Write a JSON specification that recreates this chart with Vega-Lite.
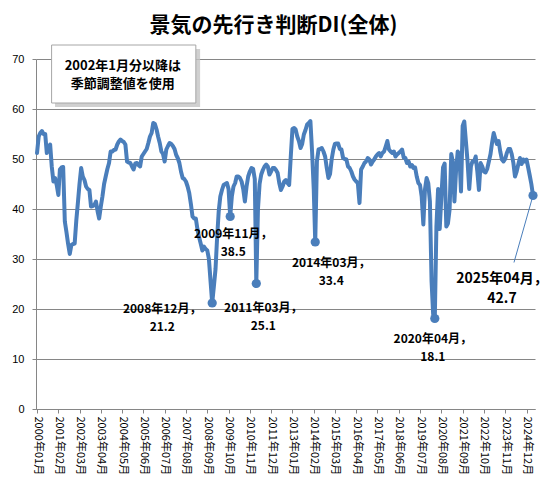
{
  "$schema": "https://vega.github.io/schema/vega-lite/v6.json",
  "autosize": "none",
  "width": 499,
  "height": 350,
  "padding": {"left": 36, "top": 59, "right": 16, "bottom": 86},
  "background": "white",
  "title": {
    "text": "景気の先行き判断DI(全体)",
    "font": "Noto Sans CJK JP",
    "fontSize": 21,
    "fontWeight": "bold",
    "color": "#000000",
    "anchor": "middle",
    "dx": -12,
    "offset": 9
  },
  "datasets": {
    "di": [
      {"d":"2000-01","v":51.2},{"d":"2000-02","v":54.5},{"d":"2000-03","v":55.2},{"d":"2000-04","v":55.6},{"d":"2000-05","v":55.0},{"d":"2000-06","v":55.0},{"d":"2000-07","v":51.2},{"d":"2000-08","v":52.3},{"d":"2000-09","v":52.9},{"d":"2000-10","v":48.5},{"d":"2000-11","v":45.5},{"d":"2000-12","v":46.2},
      {"d":"2001-01","v":44.8},{"d":"2001-02","v":42.8},{"d":"2001-03","v":47.9},{"d":"2001-04","v":48.3},{"d":"2001-05","v":48.4},{"d":"2001-06","v":37.5},{"d":"2001-07","v":35.4},{"d":"2001-08","v":33.0},{"d":"2001-09","v":31.0},{"d":"2001-10","v":32.8},{"d":"2001-11","v":33.0},{"d":"2001-12","v":33.1},
      {"d":"2002-01","v":37.8},{"d":"2002-02","v":41.5},{"d":"2002-03","v":45.0},{"d":"2002-04","v":48.2},{"d":"2002-05","v":46.5},{"d":"2002-06","v":45.8},{"d":"2002-07","v":44.5},{"d":"2002-08","v":44.0},{"d":"2002-09","v":43.8},{"d":"2002-10","v":40.5},{"d":"2002-11","v":40.6},{"d":"2002-12","v":40.8},
      {"d":"2003-01","v":41.5},{"d":"2003-02","v":39.5},{"d":"2003-03","v":38.1},{"d":"2003-04","v":40.5},{"d":"2003-05","v":42.5},{"d":"2003-06","v":45.0},{"d":"2003-07","v":46.5},{"d":"2003-08","v":48.0},{"d":"2003-09","v":49.2},{"d":"2003-10","v":51.5},{"d":"2003-11","v":51.5},{"d":"2003-12","v":51.8},
      {"d":"2004-01","v":51.9},{"d":"2004-02","v":52.9},{"d":"2004-03","v":53.5},{"d":"2004-04","v":53.9},{"d":"2004-05","v":53.6},{"d":"2004-06","v":53.4},{"d":"2004-07","v":52.9},{"d":"2004-08","v":49.5},{"d":"2004-09","v":49.3},{"d":"2004-10","v":49.2},{"d":"2004-11","v":48.5},{"d":"2004-12","v":47.9},
      {"d":"2005-01","v":49.1},{"d":"2005-02","v":49.2},{"d":"2005-03","v":48.8},{"d":"2005-04","v":48.5},{"d":"2005-05","v":50.5},{"d":"2005-06","v":51.0},{"d":"2005-07","v":51.5},{"d":"2005-08","v":52.0},{"d":"2005-09","v":53.2},{"d":"2005-10","v":54.5},{"d":"2005-11","v":55.2},{"d":"2005-12","v":57.2},
      {"d":"2006-01","v":57.0},{"d":"2006-02","v":55.9},{"d":"2006-03","v":54.5},{"d":"2006-04","v":53.2},{"d":"2006-05","v":51.5},{"d":"2006-06","v":51.0},{"d":"2006-07","v":49.5},{"d":"2006-08","v":51.9},{"d":"2006-09","v":52.6},{"d":"2006-10","v":53.2},{"d":"2006-11","v":53.0},{"d":"2006-12","v":52.6},
      {"d":"2007-01","v":52.0},{"d":"2007-02","v":50.8},{"d":"2007-03","v":50.2},{"d":"2007-04","v":49.2},{"d":"2007-05","v":47.5},{"d":"2007-06","v":46.2},{"d":"2007-07","v":46.0},{"d":"2007-08","v":45.5},{"d":"2007-09","v":44.5},{"d":"2007-10","v":43.2},{"d":"2007-11","v":41.0},{"d":"2007-12","v":38.5},
      {"d":"2008-01","v":38.1},{"d":"2008-02","v":38.1},{"d":"2008-03","v":36.0},{"d":"2008-04","v":34.4},{"d":"2008-05","v":33.1},{"d":"2008-06","v":31.7},{"d":"2008-07","v":32.5},{"d":"2008-08","v":32.0},{"d":"2008-09","v":31.7},{"d":"2008-10","v":30.0},{"d":"2008-11","v":25.5},{"d":"2008-12","v":21.2},
      {"d":"2009-01","v":24.5},{"d":"2009-02","v":28.0},{"d":"2009-03","v":34.0},{"d":"2009-04","v":39.5},{"d":"2009-05","v":42.5},{"d":"2009-06","v":43.8},{"d":"2009-07","v":44.8},{"d":"2009-08","v":45.0},{"d":"2009-09","v":45.2},{"d":"2009-10","v":44.0},{"d":"2009-11","v":38.5},{"d":"2009-12","v":42.5},
      {"d":"2010-01","v":44.5},{"d":"2010-02","v":45.2},{"d":"2010-03","v":46.5},{"d":"2010-04","v":46.5},{"d":"2010-05","v":46.2},{"d":"2010-06","v":45.5},{"d":"2010-07","v":44.0},{"d":"2010-08","v":41.5},{"d":"2010-09","v":44.5},{"d":"2010-10","v":46.5},{"d":"2010-11","v":47.5},{"d":"2010-12","v":48.2},
      {"d":"2011-01","v":48.0},{"d":"2011-02","v":46.0},{"d":"2011-03","v":25.1},{"d":"2011-04","v":40.0},{"d":"2011-05","v":45.0},{"d":"2011-06","v":46.9},{"d":"2011-07","v":47.8},{"d":"2011-08","v":48.5},{"d":"2011-09","v":48.9},{"d":"2011-10","v":48.5},{"d":"2011-11","v":46.9},{"d":"2011-12","v":47.5},
      {"d":"2012-01","v":48.2},{"d":"2012-02","v":48.2},{"d":"2012-03","v":47.8},{"d":"2012-04","v":47.2},{"d":"2012-05","v":45.2},{"d":"2012-06","v":43.8},{"d":"2012-07","v":44.5},{"d":"2012-08","v":45.5},{"d":"2012-09","v":45.8},{"d":"2012-10","v":45.2},{"d":"2012-11","v":44.8},{"d":"2012-12","v":50.5},
      {"d":"2013-01","v":56.0},{"d":"2013-02","v":56.2},{"d":"2013-03","v":55.9},{"d":"2013-04","v":54.5},{"d":"2013-05","v":53.6},{"d":"2013-06","v":52.2},{"d":"2013-07","v":53.0},{"d":"2013-08","v":54.9},{"d":"2013-09","v":55.8},{"d":"2013-10","v":56.9},{"d":"2013-11","v":57.2},{"d":"2013-12","v":57.6},
      {"d":"2014-01","v":51.5},{"d":"2014-02","v":44.0},{"d":"2014-03","v":33.4},{"d":"2014-04","v":49.5},{"d":"2014-05","v":51.9},{"d":"2014-06","v":52.0},{"d":"2014-07","v":52.2},{"d":"2014-08","v":51.5},{"d":"2014-09","v":50.5},{"d":"2014-10","v":48.2},{"d":"2014-11","v":46.2},{"d":"2014-12","v":47.0},
      {"d":"2015-01","v":50.0},{"d":"2015-02","v":51.9},{"d":"2015-03","v":53.0},{"d":"2015-04","v":53.1},{"d":"2015-05","v":53.1},{"d":"2015-06","v":52.0},{"d":"2015-07","v":51.9},{"d":"2015-08","v":50.2},{"d":"2015-09","v":50.0},{"d":"2015-10","v":49.9},{"d":"2015-11","v":48.5},{"d":"2015-12","v":48.2},
      {"d":"2016-01","v":47.5},{"d":"2016-02","v":46.5},{"d":"2016-03","v":45.9},{"d":"2016-04","v":45.5},{"d":"2016-05","v":45.2},{"d":"2016-06","v":41.2},{"d":"2016-07","v":47.9},{"d":"2016-08","v":48.5},{"d":"2016-09","v":49.2},{"d":"2016-10","v":49.5},{"d":"2016-11","v":50.2},{"d":"2016-12","v":49.9},
      {"d":"2017-01","v":48.9},{"d":"2017-02","v":49.5},{"d":"2017-03","v":49.9},{"d":"2017-04","v":50.5},{"d":"2017-05","v":50.9},{"d":"2017-06","v":51.2},{"d":"2017-07","v":50.5},{"d":"2017-08","v":51.2},{"d":"2017-09","v":51.5},{"d":"2017-10","v":52.5},{"d":"2017-11","v":53.6},{"d":"2017-12","v":51.9},
      {"d":"2018-01","v":51.5},{"d":"2018-02","v":51.2},{"d":"2018-03","v":51.5},{"d":"2018-04","v":50.5},{"d":"2018-05","v":50.9},{"d":"2018-06","v":51.2},{"d":"2018-07","v":51.5},{"d":"2018-08","v":51.9},{"d":"2018-09","v":50.3},{"d":"2018-10","v":50.2},{"d":"2018-11","v":49.2},{"d":"2018-12","v":49.5},
      {"d":"2019-01","v":48.5},{"d":"2019-02","v":48.8},{"d":"2019-03","v":48.2},{"d":"2019-04","v":48.3},{"d":"2019-05","v":46.5},{"d":"2019-06","v":45.2},{"d":"2019-07","v":44.8},{"d":"2019-08","v":42.5},{"d":"2019-09","v":36.9},{"d":"2019-10","v":43.9},{"d":"2019-11","v":46.2},{"d":"2019-12","v":45.2},
      {"d":"2020-01","v":41.5},{"d":"2020-02","v":25.5},{"d":"2020-03","v":19.0},{"d":"2020-04","v":18.1},{"d":"2020-05","v":36.5},{"d":"2020-06","v":44.0},{"d":"2020-07","v":36.0},{"d":"2020-08","v":42.4},{"d":"2020-09","v":48.3},{"d":"2020-10","v":49.1},{"d":"2020-11","v":36.5},{"d":"2020-12","v":37.1},
      {"d":"2021-01","v":39.9},{"d":"2021-02","v":51.0},{"d":"2021-03","v":49.5},{"d":"2021-04","v":41.5},{"d":"2021-05","v":47.6},{"d":"2021-06","v":51.5},{"d":"2021-07","v":51.0},{"d":"2021-08","v":43.5},{"d":"2021-09","v":56.6},{"d":"2021-10","v":57.5},{"d":"2021-11","v":53.4},{"d":"2021-12","v":49.5},
      {"d":"2022-01","v":44.0},{"d":"2022-02","v":48.5},{"d":"2022-03","v":49.5},{"d":"2022-04","v":49.5},{"d":"2022-05","v":50.5},{"d":"2022-06","v":47.5},{"d":"2022-07","v":43.8},{"d":"2022-08","v":49.2},{"d":"2022-09","v":48.5},{"d":"2022-10","v":47.5},{"d":"2022-11","v":47.3},{"d":"2022-12","v":48.0},
      {"d":"2023-01","v":49.5},{"d":"2023-02","v":51.0},{"d":"2023-03","v":53.2},{"d":"2023-04","v":55.2},{"d":"2023-05","v":54.0},{"d":"2023-06","v":53.0},{"d":"2023-07","v":53.6},{"d":"2023-08","v":51.5},{"d":"2023-09","v":49.9},{"d":"2023-10","v":49.5},{"d":"2023-11","v":50.0},{"d":"2023-12","v":51.2},
      {"d":"2024-01","v":52.0},{"d":"2024-02","v":52.0},{"d":"2024-03","v":51.0},{"d":"2024-04","v":49.2},{"d":"2024-05","v":46.5},{"d":"2024-06","v":47.5},{"d":"2024-07","v":48.9},{"d":"2024-08","v":50.2},{"d":"2024-09","v":49.0},{"d":"2024-10","v":49.9},{"d":"2024-11","v":49.5},{"d":"2024-12","v":49.9},
      {"d":"2025-01","v":48.3},{"d":"2025-02","v":46.6},{"d":"2025-03","v":45.0},{"d":"2025-04","v":42.7}
    ],
    "marks": [
      {"k":"a","d":"2008-12","v":21.2,"lab":"2008年12月，\n21.2"},
      {"k":"b","d":"2009-11","v":38.5,"lab":"2009年11月，\n38.5"},
      {"k":"c","d":"2011-03","v":25.1,"lab":"2011年03月，\n25.1"},
      {"k":"d","d":"2014-03","v":33.4,"lab":"2014年03月，\n33.4"},
      {"k":"e","d":"2020-04","v":18.1,"lab":"2020年04月，\n18.1"},
      {"k":"f","d":"2025-04","v":42.7,"lab":"2025年04月，\n42.7"}
    ],
    "note": [
      {"txt":"2002年1月分以降は\n季節調整値を使用"}
    ]
  },
  "layer": [
    {
      "data": {"name": "di"},
      "mark": {"type": "line", "color": "#4a7ebb", "strokeWidth": 4, "strokeJoin": "round", "strokeCap": "round"},
      "encoding": {
        "x": {
          "field": "d",
          "type": "temporal",
          "scale": {
            "type": "utc",
            "domain": [
              {"year": 1999, "month": 12, "date": 13, "utc": true},
              {"year": 2025, "month": 5, "date": 8, "utc": true}
            ]
          },
          "axis": {
            "title": null,
            "grid": false,
            "format": "%Y年%m月",
            "labelAngle": 90,
            "labelAlign": "left",
            "labelBaseline": "middle",
            "labelFont": "Noto Sans CJK JP",
            "labelFontSize": 11,
            "labelColor": "#000000",
            "labelPadding": 3,
            "labelOverlap": false,
            "labelFlush": false,
            "tickCount": 40,
            "tickSize": 4,
            "domainColor": "#868686",
            "tickColor": "#868686",
            "values": [
              {"year": 2000, "month": 1, "date": 1, "utc": true},
              {"year": 2001, "month": 2, "date": 1, "utc": true},
              {"year": 2002, "month": 3, "date": 1, "utc": true},
              {"year": 2003, "month": 4, "date": 1, "utc": true},
              {"year": 2004, "month": 5, "date": 1, "utc": true},
              {"year": 2005, "month": 6, "date": 1, "utc": true},
              {"year": 2006, "month": 7, "date": 1, "utc": true},
              {"year": 2007, "month": 8, "date": 1, "utc": true},
              {"year": 2008, "month": 9, "date": 1, "utc": true},
              {"year": 2009, "month": 10, "date": 1, "utc": true},
              {"year": 2010, "month": 11, "date": 1, "utc": true},
              {"year": 2011, "month": 12, "date": 1, "utc": true},
              {"year": 2013, "month": 1, "date": 1, "utc": true},
              {"year": 2014, "month": 2, "date": 1, "utc": true},
              {"year": 2015, "month": 3, "date": 1, "utc": true},
              {"year": 2016, "month": 4, "date": 1, "utc": true},
              {"year": 2017, "month": 5, "date": 1, "utc": true},
              {"year": 2018, "month": 6, "date": 1, "utc": true},
              {"year": 2019, "month": 7, "date": 1, "utc": true},
              {"year": 2020, "month": 8, "date": 1, "utc": true},
              {"year": 2021, "month": 9, "date": 1, "utc": true},
              {"year": 2022, "month": 10, "date": 1, "utc": true},
              {"year": 2023, "month": 11, "date": 1, "utc": true},
              {"year": 2024, "month": 12, "date": 1, "utc": true}
            ]
          }
        },
        "y": {
          "field": "v",
          "type": "quantitative",
          "scale": {"domain": [0, 70], "nice": false, "zero": true},
          "axis": {
            "title": null,
            "values": [0, 10, 20, 30, 40, 50, 60, 70],
            "tickCount": 20,
            "labelFont": "Liberation Sans",
            "labelFontSize": 11,
            "labelColor": "#000000",
            "labelPadding": 8,
            "tickSize": 4,
            "grid": true,
            "gridColor": "#868686",
            "gridWidth": 1,
            "domainColor": "#868686",
            "tickColor": "#868686"
          }
        }
      }
    },
    {
      "data": {"name": "note"},
      "mark": {"type": "rect", "fill": "#c4c4c4", "opacity": 0.8},
      "encoding": {
        "x": {"datum": {"year": 2000, "month": 12, "date": 1, "utc": true}, "type": "temporal", "axis": {"tickCount": 40}},
        "x2": {"datum": {"year": 2008, "month": 4, "date": 20, "utc": true}},
        "y": {"datum": 72.0, "type": "quantitative", "axis": {"tickCount": 20}},
        "y2": {"datum": 60.4}
      }
    },
    {
      "data": {"name": "note"},
      "mark": {"type": "rect", "fill": "#ffffff", "stroke": "#a6a6a6", "strokeWidth": 1},
      "encoding": {
        "x": {"datum": {"year": 2000, "month": 9, "date": 28, "utc": true}, "type": "temporal", "axis": {"tickCount": 40}},
        "x2": {"datum": {"year": 2008, "month": 2, "date": 1, "utc": true}},
        "y": {"datum": 72.8, "type": "quantitative", "axis": {"tickCount": 20}},
        "y2": {"datum": 61.2}
      }
    },
    {
      "data": {"name": "note"},
      "mark": {
        "type": "text",
        "font": "Noto Sans CJK JP",
        "fontSize": 13,
        "fontWeight": "bold",
        "color": "#000000",
        "align": "center",
        "baseline": "middle",
        "lineBreak": "\n",
        "lineHeight": 18
      },
      "encoding": {
        "x": {"datum": {"year": 2004, "month": 5, "date": 15, "utc": true}, "type": "temporal", "axis": {"tickCount": 40}},
        "y": {"datum": 68.7, "type": "quantitative", "axis": {"tickCount": 20}},
        "text": {"field": "txt"}
      }
    },
    {
      "data": {"name": "marks"},
      "mark": {"type": "point", "shape": "circle", "filled": true, "color": "#4a7ebb", "size": 85, "opacity": 1},
      "encoding": {
        "x": {"field": "d", "type": "temporal", "axis": {"tickCount": 40}},
        "y": {"field": "v", "type": "quantitative", "axis": {"tickCount": 20}}
      }
    },
    {
      "data": {"name": "marks"},
      "transform": [{"filter": "datum.k == 'f'"}],
      "mark": {"type": "rule", "color": "#4a7ebb", "strokeWidth": 1},
      "encoding": {
        "x": {"field": "d", "type": "temporal", "axis": {"tickCount": 40}},
        "y": {"field": "v", "type": "quantitative", "axis": {"tickCount": 20}},
        "x2": {"datum": {"year": 2024, "month": 4, "date": 12, "utc": true}},
        "y2": {"datum": 29.3}
      }
    },
    {
      "data": {"name": "marks"},
      "transform": [{"filter": "datum.k == 'a'"}],
      "mark": {"type": "text", "font": "Noto Sans CJK JP", "fontSize": 12, "fontWeight": "bold", "color": "#000000", "align": "center", "baseline": "top", "lineBreak": "\n", "lineHeight": 18, "dx": -50, "dy": 1},
      "encoding": {"x": {"field": "d", "type": "temporal", "axis": {"tickCount": 40}}, "y": {"field": "v", "type": "quantitative", "axis": {"tickCount": 20}}, "text": {"field": "lab"}}
    },
    {
      "data": {"name": "marks"},
      "transform": [{"filter": "datum.k == 'b'"}],
      "mark": {"type": "text", "font": "Noto Sans CJK JP", "fontSize": 12, "fontWeight": "bold", "color": "#000000", "align": "center", "baseline": "top", "lineBreak": "\n", "lineHeight": 18, "dx": 3, "dy": 12},
      "encoding": {"x": {"field": "d", "type": "temporal", "axis": {"tickCount": 40}}, "y": {"field": "v", "type": "quantitative", "axis": {"tickCount": 20}}, "text": {"field": "lab"}}
    },
    {
      "data": {"name": "marks"},
      "transform": [{"filter": "datum.k == 'c'"}],
      "mark": {"type": "text", "font": "Noto Sans CJK JP", "fontSize": 12, "fontWeight": "bold", "color": "#000000", "align": "center", "baseline": "top", "lineBreak": "\n", "lineHeight": 18, "dx": 7, "dy": 19},
      "encoding": {"x": {"field": "d", "type": "temporal", "axis": {"tickCount": 40}}, "y": {"field": "v", "type": "quantitative", "axis": {"tickCount": 20}}, "text": {"field": "lab"}}
    },
    {
      "data": {"name": "marks"},
      "transform": [{"filter": "datum.k == 'd'"}],
      "mark": {"type": "text", "font": "Noto Sans CJK JP", "fontSize": 12, "fontWeight": "bold", "color": "#000000", "align": "center", "baseline": "top", "lineBreak": "\n", "lineHeight": 18, "dx": 16, "dy": 16},
      "encoding": {"x": {"field": "d", "type": "temporal", "axis": {"tickCount": 40}}, "y": {"field": "v", "type": "quantitative", "axis": {"tickCount": 20}}, "text": {"field": "lab"}}
    },
    {
      "data": {"name": "marks"},
      "transform": [{"filter": "datum.k == 'e'"}],
      "mark": {"type": "text", "font": "Noto Sans CJK JP", "fontSize": 12, "fontWeight": "bold", "color": "#000000", "align": "center", "baseline": "top", "lineBreak": "\n", "lineHeight": 18, "dx": -2, "dy": 15},
      "encoding": {"x": {"field": "d", "type": "temporal", "axis": {"tickCount": 40}}, "y": {"field": "v", "type": "quantitative", "axis": {"tickCount": 20}}, "text": {"field": "lab"}}
    },
    {
      "data": {"name": "marks"},
      "transform": [{"filter": "datum.k == 'f'"}],
      "mark": {"type": "text", "font": "Noto Sans CJK JP", "fontSize": 14, "fontWeight": "bold", "color": "#000000", "align": "center", "baseline": "top", "lineBreak": "\n", "lineHeight": 20, "dx": -31, "dy": 76},
      "encoding": {"x": {"field": "d", "type": "temporal", "axis": {"tickCount": 40}}, "y": {"field": "v", "type": "quantitative", "axis": {"tickCount": 20}}, "text": {"field": "lab"}}
    }
  ],
  "config": {
    "view": {"stroke": null},
    "axisX": {"labelOverlap": false, "labelFlush": false},
    "axis": {"labelOverlap": false}
  }
}
